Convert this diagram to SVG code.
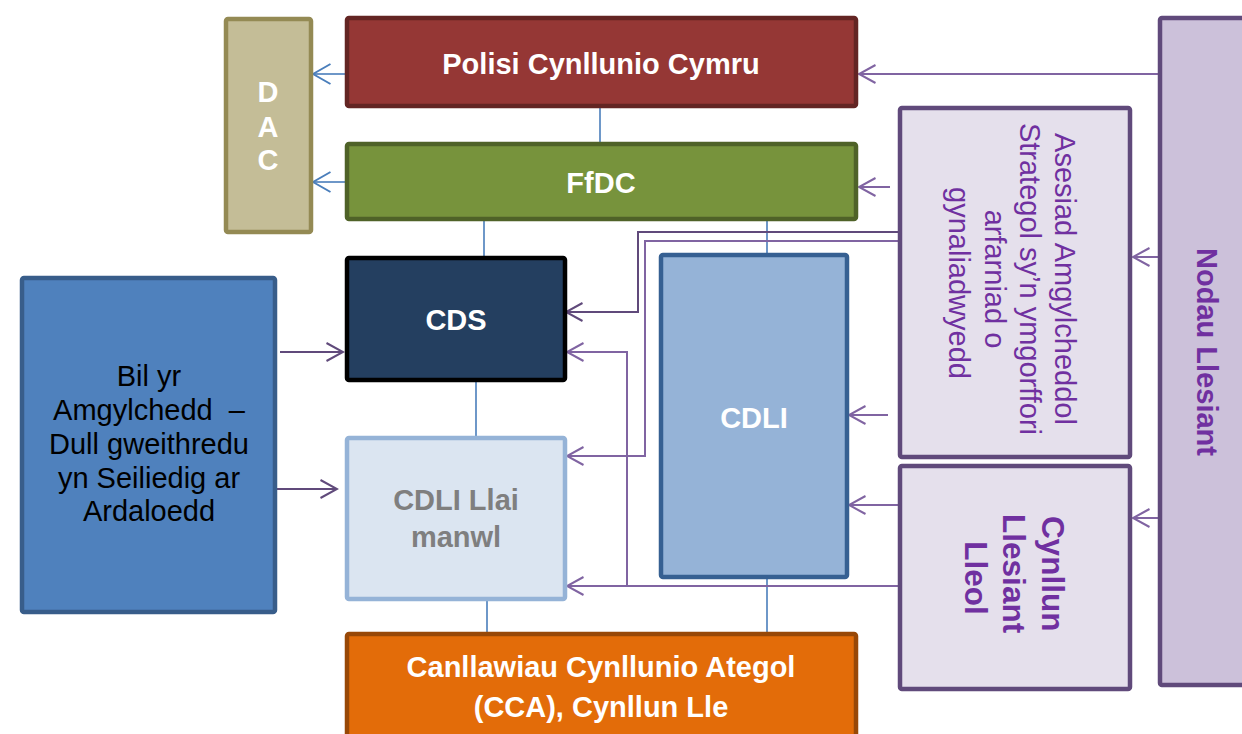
<svg xmlns="http://www.w3.org/2000/svg" width="1242" height="734" viewBox="0 0 1242 734">
<style>
text{font-family:"Liberation Sans",Arial,sans-serif;font-size:29px;text-anchor:middle}
.b{font-weight:bold}
.w{fill:#FFFFFF}
.p{fill:#7030A0}
.box{stroke-width:4.5}
.blue{fill:none;stroke:#4A7EBB;stroke-width:1.6}
.pur{fill:none;stroke:#8064A2;stroke-width:2}
.pur2{fill:none;stroke:#604A7B;stroke-width:2}
</style>
<defs>
<marker id="ab" markerUnits="userSpaceOnUse" viewBox="0 0 20 22" refX="18.5" refY="11" markerWidth="20" markerHeight="22" orient="auto">
<path d="M1,1 L18.5,11 L1,21" fill="none" stroke="#4A7EBB" stroke-width="2"/>
</marker>
<marker id="ap" markerUnits="userSpaceOnUse" viewBox="0 0 20 22" refX="18" refY="11" markerWidth="20" markerHeight="22" orient="auto">
<path d="M1.5,2 L18,11 L1.5,20" fill="none" stroke="#8064A2" stroke-width="2"/>
</marker>
<marker id="ap2" markerUnits="userSpaceOnUse" viewBox="0 0 20 22" refX="18" refY="11" markerWidth="20" markerHeight="22" orient="auto">
<path d="M1.5,2 L18,11 L1.5,20" fill="none" stroke="#604A7B" stroke-width="2"/>
</marker>
</defs>

<g id="connectors">
<path class="blue" d="M600,108 V142"/>
<path class="blue" d="M484,221 V256"/>
<path class="blue" d="M767,221 V253"/>
<path class="blue" d="M476,382 V436"/>
<path class="blue" d="M487,601 V632"/>
<path class="blue" d="M767,579 V632"/>
<path class="blue" d="M345,74 H313" marker-end="url(#ab)"/>
<path class="blue" d="M345,182 H313" marker-end="url(#ab)"/>
<path class="pur2" d="M280,352 H343" marker-end="url(#ap2)"/>
<path class="pur2" d="M277,489 H337" marker-end="url(#ap2)"/>
<path class="pur" d="M1158,74 H859" marker-end="url(#ap)"/>
<path class="pur" d="M890,187 H859" marker-end="url(#ap)"/>
<path class="pur" d="M1158,257 H1133" marker-end="url(#ap)"/>
<path class="pur" d="M1158,518 H1133" marker-end="url(#ap)"/>
<path class="pur" d="M888,415 H849" marker-end="url(#ap)"/>
<path class="pur" d="M898,505 H849" marker-end="url(#ap)"/>
<path class="pur2" d="M898,232 H638 V312 H566" marker-end="url(#ap2)"/>
<path class="pur" d="M898,241 H645 V456 H567" marker-end="url(#ap)"/>
<path class="pur" d="M898,586 H627 V352 H567" marker-end="url(#ap)"/>
<path class="pur" d="M627,586 H567" marker-end="url(#ap)"/>
</g>

<g id="dac">
<rect class="box" x="226" y="19" width="85" height="213" rx="2" fill="#C4BD97" stroke="#948A54"/>
<text class="b w" x="268" y="102">D</text>
<text class="b w" x="268" y="137">A</text>
<text class="b w" x="268" y="170">C</text>
</g>

<g id="polisi">
<rect class="box" x="347" y="18" width="509" height="88" rx="2" fill="#953735" stroke="#632523"/>
<text class="b w" x="601" y="74">Polisi Cynllunio Cymru</text>
</g>

<g id="ffdc">
<rect class="box" x="347" y="144" width="509" height="75" rx="2" fill="#77933C" stroke="#4F6228"/>
<text class="b w" x="601" y="193">FfDC</text>
</g>

<g id="cds">
<rect class="box" x="347" y="258" width="218" height="122" rx="2" fill="#243F60" stroke="#000000"/>
<text class="b w" x="456" y="330">CDS</text>
</g>

<g id="cdli-llai">
<rect class="box" x="347" y="438" width="218" height="161" rx="2" fill="#DBE5F1" stroke="#95B3D7"/>
<text class="b" fill="#7F7F7F" x="456" y="510">CDLI Llai</text>
<text class="b" fill="#7F7F7F" x="456" y="547">manwl</text>
</g>

<g id="cdli">
<rect class="box" x="661" y="255" width="186" height="322" rx="2" fill="#95B3D7" stroke="#366092"/>
<text class="b w" x="754" y="428">CDLI</text>
</g>

<g id="cca">
<rect class="box" x="347" y="634" width="509" height="110" rx="2" fill="#E36C09" stroke="#984807"/>
<text class="b w" x="601" y="677">Canllawiau Cynllunio Ategol</text>
<text class="b w" x="601" y="717">(CCA), Cynllun Lle</text>
</g>

<g id="bil">
<rect class="box" x="22" y="278" width="253" height="334" rx="2" fill="#4F81BD" stroke="#385D8A"/>
<text fill="#000000" x="149" y="386">Bil yr</text>
<text fill="#000000" x="149" y="420">Amgylchedd&#160; –</text>
<text fill="#000000" x="149" y="454">Dull gweithredu</text>
<text fill="#000000" x="149" y="488">yn Seiliedig ar</text>
<text fill="#000000" x="149" y="521">Ardaloedd</text>
</g>

<g id="nodau">
<rect class="box" x="1160" y="18" width="100" height="667" rx="2" fill="#CCC1DA" stroke="#604A7B"/>
<text class="b p" transform="translate(1197,352) rotate(90)" x="0" y="0">Nodau Llesiant</text>
</g>

<g id="asesiad">
<rect class="box" x="900" y="108" width="230" height="349" rx="2" fill="#E5E0EC" stroke="#604A7B"/>
<text class="p" transform="translate(1002,283) rotate(90)">
<tspan x="0" y="-53">Asesiad Amgylcheddol</tspan>
<tspan x="0" y="-18">Strategol sy’n ymgorffori</tspan>
<tspan x="0" y="17">arfarniad o</tspan>
<tspan x="0" y="53">gynaliadwyedd</tspan>
</text>
</g>

<g id="cynllun">
<rect class="box" x="900" y="466" width="230" height="223" rx="2" fill="#E5E0EC" stroke="#604A7B"/>
<text class="b p" style="font-size:31.5px" transform="translate(1003,578) rotate(90)">
<tspan x="0" y="-39">Cynllun</tspan>
<tspan x="0" y="0">Llesiant</tspan>
<tspan x="0" y="38">Lleol</tspan>
</text>
</g>
</svg>
